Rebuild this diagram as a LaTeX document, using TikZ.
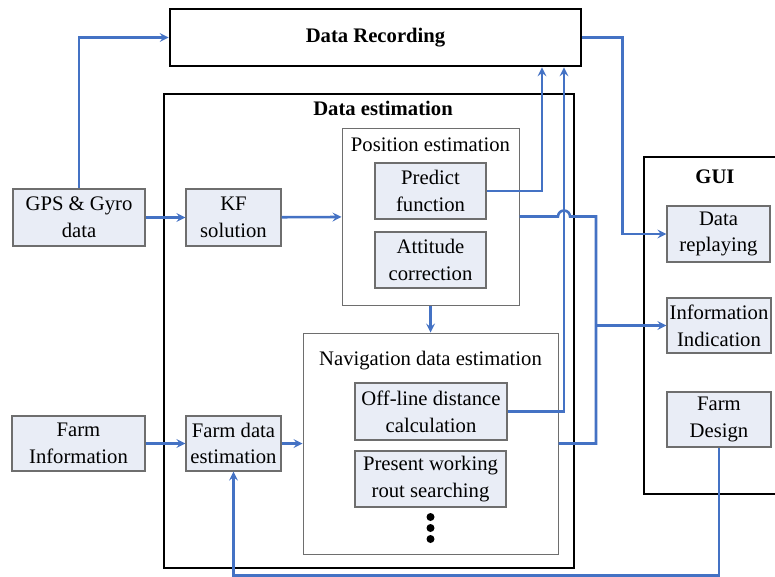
\documentclass[tikz,border=0pt]{standalone}
\usepackage{fontspec}
\setmainfont{Liberation Serif}
\definecolor{linkblue}{RGB}{68,114,196}
\definecolor{boxfill}{RGB}{233,237,246}
\definecolor{boxgray}{RGB}{110,110,110}
\begin{document}
\begin{tikzpicture}[x=0.75pt, y=-0.75pt,
    every node/.style={font=\fontsize{15.5}{20}\selectfont, align=center, inner sep=1pt},
    block/.style={draw=boxgray, fill=boxfill, line width=0.9pt, minimum width=#1},
    frame/.style={draw=black, line width=2pt},
    group/.style={draw=boxgray, line width=0.75pt},
    link/.style={draw=linkblue, line width=1.9pt}]
  \useasboundingbox (0,0) rectangle (775,576);
  % outer frames
  \node[frame, minimum width=308.25pt, minimum height=42.75pt] (dr) at (375.5,37.5) {\bfseries Data Recording};
  \node[frame, minimum width=307.5pt, minimum height=355.5pt] (de) at (369,331) {};
  \node[frame, minimum width=102pt, minimum height=252.75pt] (gui) at (712,325.5) {};
  \node (detitle) at (383,108) {\bfseries Data estimation};
  \node (guititle) at (715,177) {\bfseries GUI};
  % position and navigation groups
  \node[group, minimum width=132.75pt, minimum height=132.75pt] (pe) at (430.5,216.5) {};
  \node (petitle) at (430.5,145) {Position estimation};
  \node[group, minimum width=191.25pt, minimum height=165.75pt] (nav) at (430.5,443.5) {};
  \node (navtitle) at (430.5,361) {Navigation data estimation};
  % blocks
  \node[block=83.25pt, minimum height=42pt] (pf) at (430.5,191) {Predict\\function};
  \node[block=83.25pt, minimum height=42pt] (ac) at (430.5,260) {Attitude\\correction};
  \node[block=114pt, minimum height=42.75pt] (old) at (431,411.5) {Off-line distance\\calculation};
  \node[block=113.25pt, minimum height=42pt] (pwr) at (430.5,479) {Present working\\rout searching};
  \node[block=99pt, minimum height=42.75pt] (gps) at (79,217.5) {GPS \& Gyro\\data};
  \node[block=71.25pt, minimum height=42.75pt] (kf) at (233.5,217.5) {KF\\solution};
  \node[block=99.75pt, minimum height=41.25pt] (fi) at (78.5,443.5) {Farm\\Information};
  \node[block=71.25pt, minimum height=41.25pt] (fde) at (233.5,443.5) {Farm data\\estimation};
  \node[block=77.25pt, minimum height=42pt] (drp) at (718.5,234) {Data\\replaying};
  \node[block=78pt, minimum height=41.25pt] (ii) at (719,325.5) {Information\\Indication};
  \node[block=78pt, minimum height=41.25pt] (fd) at (719,419.5) {Farm\\Design};
  \foreach \y in {517,528,539} \fill (430.5,\y) circle (3pt);
  % connectors
  \coordinate (hop) at (564,216.5);
  \coordinate (j) at (596,325.5);
  \coordinate (low) at (719,575.5);
  \draw[link, -stealth] (gps.north) |- (dr.west);
  \draw[link, -stealth] (gps) -- (kf);
  \draw[link, -stealth] (kf) -- (pe);
  \draw[link, -stealth] (pf.east) -| ([xshift=124.875pt]dr.south);
  \draw[link, -stealth] (old.east) -| (dr.south -| hop);
  \draw[link, -stealth] (dr.east) -- ++(30pt,0) |- (drp.west);
  \draw[link] (pe.east) -- ([xshift=-4.5pt]hop) arc[start angle=180, end angle=0, radius=4.5pt] -- (hop -| j) |- (nav.east);
  \draw[link, -stealth] (j) -- (ii.west);
  \draw[link, -stealth] (pe.south) -- (nav.north);
  \draw[link, -stealth] (fi) -- (fde);
  \draw[link, -stealth] (fde) -- (nav);
  \draw[link, -stealth] (fd.south) -- (low) -| (fde.south);
\end{tikzpicture}
\end{document}
